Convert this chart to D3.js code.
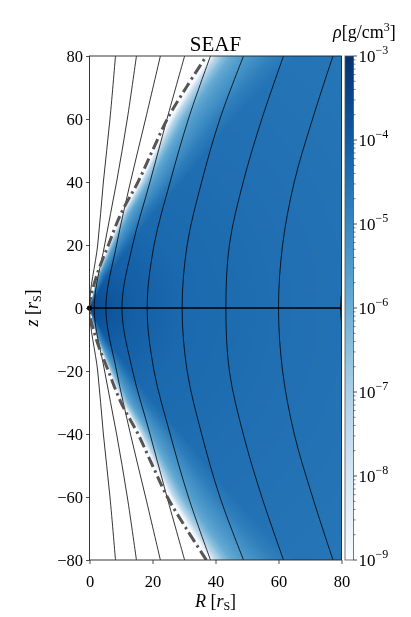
<!DOCTYPE html>
<html>
<head>
<meta charset="utf-8">
<script src="https://cdn.jsdelivr.net/npm/d3@7"></script>
<style>
  body { margin: 0; background: #fff; overflow: hidden; }
  #wrap { position: relative; width: 411px; height: 617px; }
  canvas, svg { position: absolute; left: 0; top: 0; }
  text { font-family: "Liberation Serif", "DejaVu Serif", serif; fill: #000; }
</style>
</head>
<body>
<div id="wrap">
  <canvas id="field" width="411" height="617"></canvas>
  <svg id="chart" width="411" height="617"></svg>
</div>
<script>
// ticks
const xTicks = [0, 20, 40, 60, 80]
const yTicks = [-80, -60, -40, -20, 0, 20, 40, 60, 80]
const cbarExponents = [-9, -8, -7, -6, -5, -4, -3]

// field lines, upper half [R, z] (mirrored for z < 0)
const lineA = [[0, 0], [2.6, 20], [4.4, 40], [6.5, 60], [8.25, 80]]
const lineB = [[1.5, 0], [4.8, 20], [8.6, 40], [12.0, 60], [14.9, 80]]
const lineC = [[5.2, 0], [8.6, 20], [13.0, 40], [17.8, 60], [22.5, 80]]
const lineD = [[10.3, 0], [13.7, 20], [19.2, 40], [24.6, 60], [30.2, 80]]
const lineE = [[18.3, 0], [20.5, 20], [25.6, 40], [31.4, 60], [38.4, 80]]
const lineF = [[29.4, 0], [31.0, 20], [35.6, 40], [41.4, 60], [48.9, 80]]
const lineG = [[43.3, 0], [44.4, 20], [48.8, 40], [54.7, 60], [61.6, 80]]
const lineH = [[60.0, 0], [61.3, 20], [65.0, 40], [70.8, 60], [77.3, 80]]
const lineI = [[79.7, 0], [80.2, 6], [81.2, 12]]
const fieldLines = [lineA, lineB, lineC, lineD, lineE, lineF, lineG, lineH, lineI]

// funnel boundary (dash-dot), R at height |z|
const funnelZ = [0, 10, 20, 30, 40, 50, 60, 70, 80]
const funnelR = [0, 2.2, 6.0, 10.0, 15.4, 20.0, 24.7, 30.7, 37.1]

const rhoRadius = [0, 3, 8, 15, 30, 60, 115]
const rhoMidLog = [-3.55, -3.7, -3.9, -4.1, -4.3, -4.45, -4.6]

// drop of log10 density vs offset from the funnel wall, (R - Rb) / |z|
const edgeOffset = [0, 0.015, 0.04, 0.07, 0.1, 0.14, 0.19, 0.26, 0.35]
const edgeDrop = [-8, -4.5, -2.8, -1.9, -1.35, -1.0, -0.7, -0.3, 0]

const plot = {left: 89.5, right: 341.5, top: 56, bottom: 560}
const cbar = {left: 345, right: 353.5}

const x = d3.scaleLinear().domain([0, 80]).range([plot.left, plot.right])
const y = d3.scaleLinear().domain([-80, 80]).range([plot.bottom, plot.top])
const cy = d3.scaleLog().domain([1e-9, 1e-3]).range([plot.bottom, plot.top])
const color = d3.scaleSequentialLog(d3.interpolateBlues).domain([1e-9, 1e-3]).clamp(true)

const funnelAt = d3.scaleLinear().domain(funnelZ).range(funnelR)
const midProfile = d3.scaleLinear().domain(rhoRadius).range(rhoMidLog).clamp(true)
const edgeProfile = d3.scaleLinear().domain(edgeOffset).range(edgeDrop).clamp(true)

function logRho(R, z) {
    const az = Math.abs(z)
    const s = (R - funnelAt(az)) / Math.max(az, 0.5)
    if (s < 0) return null
    return midProfile(Math.hypot(R, z)) + edgeProfile(s)
}

// density map on the canvas
const ctx = document.querySelector('#field').getContext('2d')
const x0 = Math.floor(plot.left), x1 = Math.ceil(plot.right)
const y0 = Math.floor(plot.top), y1 = Math.ceil(plot.bottom)
const img = ctx.createImageData(x1 - x0, y1 - y0)
for (let py = y0; py < y1; py++) {
    for (let px = x0; px < x1; px++) {
        const v = logRho(x.invert(px + 0.5), y.invert(py + 0.5))
        if (v === null) continue
        const c = d3.rgb(color(Math.pow(10, v)))
        const k = ((py - y0) * (x1 - x0) + (px - x0)) * 4
        img.data[k] = c.r
        img.data[k + 1] = c.g
        img.data[k + 2] = c.b
        img.data[k + 3] = 255
    }
}
ctx.putImageData(img, x0, y0)

const svg = d3.select('#chart')

svg.append('clipPath').attr('id', 'clip')
   .append('rect')
   .attr('x', plot.left).attr('y', plot.top)
   .attr('width', plot.right - plot.left).attr('height', plot.bottom - plot.top)

const inner = svg.append('g').attr('clip-path', 'url(#clip)')

// field lines
const mirror = pts => pts.slice(1).reverse().map(p => [p[0], -p[1]]).concat(pts)
const line = d3.line().x(d => x(d[0])).y(d => y(d[1])).curve(d3.curveCatmullRom.alpha(0.5))

inner.selectAll('path.fl')
     .data(fieldLines)
     .join('path')
     .attr('class', 'fl')
     .attr('d', d => line(mirror(d)))
     .attr('fill', 'none')
     .attr('stroke', '#000')
     .attr('stroke-width', 0.8)

// funnel boundary
const funnelPts = funnelZ.map((z, i) => [funnelR[i], z])
inner.append('path')
     .attr('d', line(mirror(funnelPts)))
     .attr('fill', 'none')
     .attr('stroke', '#555')
     .attr('stroke-width', 3)
     .attr('stroke-dasharray', '11,4,2.5,4')

// midplane
inner.append('line')
     .attr('x1', x(0)).attr('x2', x(80))
     .attr('y1', y(0)).attr('y2', y(0))
     .attr('stroke', '#000')
     .attr('stroke-width', 1.3)

svg.append('circle')
   .attr('cx', x(0)).attr('cy', y(0)).attr('r', 2.6)
   .attr('fill', '#000')

// frame
svg.append('rect')
   .attr('x', plot.left).attr('y', plot.top)
   .attr('width', plot.right - plot.left).attr('height', plot.bottom - plot.top)
   .attr('fill', 'none').attr('stroke', '#222').attr('stroke-width', 0.9)

const fmt = d => d < 0 ? '\u2212' + Math.abs(d) : String(d)

const xAxis = svg.append('g')
   .attr('transform', `translate(0, ${plot.bottom})`)
   .call(d3.axisBottom(x).tickValues(xTicks).tickSize(4).tickPadding(11).tickFormat(fmt))
const yAxis = svg.append('g')
   .attr('transform', `translate(${plot.left}, 0)`)
   .call(d3.axisLeft(y).tickValues(yTicks).tickSize(3.5).tickPadding(3).tickFormat(fmt))

for (const g of [xAxis, yAxis]) {
    g.select('.domain').remove()
    g.attr('font-family', null).attr('font-size', null)
    g.selectAll('line').attr('stroke', '#222').attr('stroke-width', 0.8)
    g.selectAll('text').style('font-size', '16.5px')
}

// colorbar
const rows = d3.range(plot.top, plot.bottom, 1)
svg.append('g')
   .selectAll('rect')
   .data(rows)
   .join('rect')
   .attr('x', cbar.left)
   .attr('y', d => d)
   .attr('width', cbar.right - cbar.left)
   .attr('height', 1.2)
   .attr('fill', d => color(cy.invert(d + 0.5)))

svg.append('rect')
   .attr('x', cbar.left).attr('y', plot.top)
   .attr('width', cbar.right - cbar.left).attr('height', plot.bottom - plot.top)
   .attr('fill', 'none').attr('stroke', '#555').attr('stroke-width', 0.8)

const minorVals = []
for (let e = -9; e < -3; e++)
    for (let m = 2; m <= 9; m++) minorVals.push(m * Math.pow(10, e))

svg.append('g')
   .selectAll('line')
   .data(minorVals)
   .join('line')
   .attr('x1', cbar.right).attr('x2', cbar.right + 2)
   .attr('y1', d => cy(d)).attr('y2', d => cy(d))
   .attr('stroke', '#222').attr('stroke-width', 0.6)

const cbTicks = svg.append('g')
   .selectAll('g')
   .data(cbarExponents)
   .join('g')
   .attr('transform', d => `translate(${cbar.right}, ${cy(Math.pow(10, d))})`)

cbTicks.append('line').attr('x2', 3.5).attr('stroke', '#222').attr('stroke-width', 0.8)

const cbText = cbTicks.append('text')
   .attr('x', 5)
   .attr('y', 6)
   .style('font-size', '17px')
cbText.append('tspan').text('10')
cbText.append('tspan')
      .attr('dy', -8)
      .style('font-size', '12px')
      .text(d => '\u2212' + Math.abs(d))

// title and labels
svg.append('text')
   .attr('x', (plot.left + plot.right) / 2).attr('y', 51)
   .attr('text-anchor', 'middle')
   .style('font-size', '21px')
   .text('SEAF')

const cbLabel = svg.append('text')
   .attr('x', 333).attr('y', 38)
   .style('font-size', '18px')
cbLabel.append('tspan').style('font-style', 'italic').text('\u03c1')
cbLabel.append('tspan').text('[g/cm')
cbLabel.append('tspan').attr('dy', -7).style('font-size', '12px').text('3')
cbLabel.append('tspan').attr('dy', 7).text(']')

const xLabel = svg.append('text')
   .attr('x', (plot.left + plot.right) / 2).attr('y', 607)
   .attr('text-anchor', 'middle')
   .style('font-size', '18px')
xLabel.append('tspan').style('font-style', 'italic').text('R')
xLabel.append('tspan').text(' [')
xLabel.append('tspan').style('font-style', 'italic').text('r')
xLabel.append('tspan').attr('dy', 3).style('font-size', '12px').text('S')
xLabel.append('tspan').attr('dy', -3).text(']')

const yLabel = svg.append('text')
   .attr('transform', `translate(38, ${(plot.top + plot.bottom) / 2}) rotate(-90)`)
   .attr('text-anchor', 'middle')
   .style('font-size', '18px')
yLabel.append('tspan').style('font-style', 'italic').text('z')
yLabel.append('tspan').text(' [')
yLabel.append('tspan').style('font-style', 'italic').text('r')
yLabel.append('tspan').attr('dy', 3).style('font-size', '12px').text('S')
yLabel.append('tspan').attr('dy', -3).text(']')
</script>
</body>
</html>
